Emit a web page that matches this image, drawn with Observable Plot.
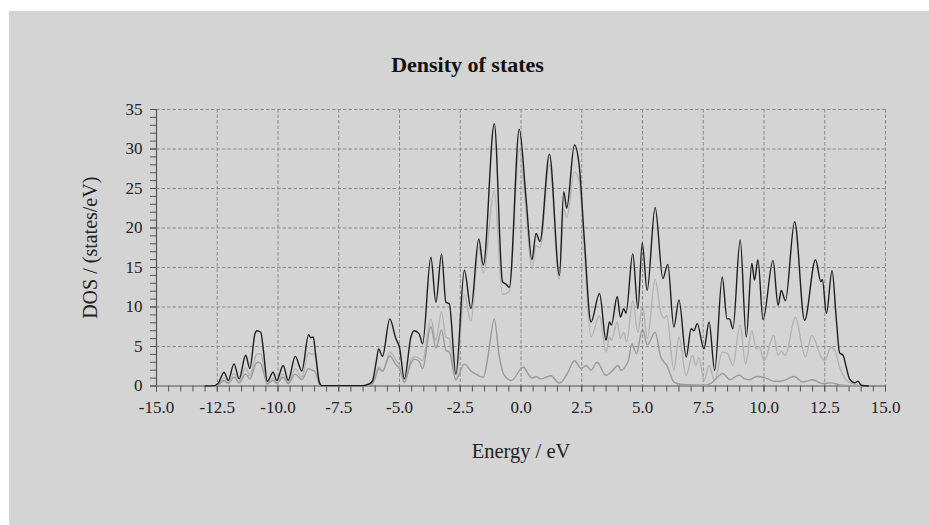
<!DOCTYPE html>
<html>
<head>
<meta charset="utf-8">
<script src="https://cdn.jsdelivr.net/npm/d3@7"></script>
<script src="https://cdn.jsdelivr.net/npm/@observablehq/plot@0.6"></script>
<style>
  html, body { margin: 0; padding: 0; background: #ffffff; }
  #page { position: relative; width: 929px; height: 525px; overflow: hidden; }
  #bg { position: absolute; left: 9px; top: 11px; right: 0; bottom: 0; background: #d4d4d4; }
  #chart { position: absolute; left: 0; top: 0; }
</style>
</head>
<body>
<div id="page"><div id="bg"></div><div id="chart"></div></div>
<script>
const titleText = "Density of states";
const xLabel = "Energy / eV";
const yLabel = "DOS / (states/eV)";
const xTicks = [-15, -12.5, -10, -7.5, -5, -2.5, 0, 2.5, 5, 7.5, 10, 12.5, 15];
const yTicks = [0, 5, 10, 15, 20, 25, 30, 35];
const xMinorTicks = d3.range(-15, 15.001, 0.5);
const yMinorTicks = d3.range(0, 35.001, 1);

// Total DOS [energy, DOS]
const totalDOS = [[-13.0,0],[-12.6,0.05],[-12.45,0.4],[-12.22,1.75],[-12.05,0.7],[-11.81,2.8],[-11.6,0.9],[-11.33,3.9],[-11.16,2.2],[-10.95,6.6],[-10.87,7.0],[-10.71,6.8],[-10.6,4.5],[-10.44,0.6],[-10.2,1.75],[-10.05,0.7],[-9.79,2.6],[-9.58,0.7],[-9.29,3.75],[-9.02,1.9],[-8.74,6.5],[-8.65,6.1],[-8.55,6.2],[-8.45,4.0],[-8.3,0.5],[-8.2,0.05],[-6.5,0.05],[-6.3,0.2],[-6.12,0.6],[-5.95,3.2],[-5.86,4.7],[-5.7,3.75],[-5.4,8.5],[-5.15,6.0],[-5.0,4.9],[-4.8,0.9],[-4.53,6.2],[-4.4,7.0],[-4.19,6.6],[-4.05,5.35],[-3.71,16.3],[-3.5,10.6],[-3.27,16.7],[-3.09,10.6],[-2.95,10.4],[-2.68,1.5],[-2.33,14.65],[-2.06,9.8],[-1.74,18.6],[-1.55,15.3],[-1.1,33.2],[-0.76,13.2],[-0.62,12.9],[-0.48,12.5],[-0.07,32.5],[0.21,23.7],[0.45,16.0],[0.62,19.3],[0.78,18.3],[1.17,29.35],[1.58,14.0],[1.76,24.6],[1.88,22.5],[2.2,30.5],[2.4,27.75],[2.61,18.4],[2.88,8.1],[3.23,11.7],[3.5,5.8],[3.64,8.1],[3.72,7.7],[3.96,11.35],[4.09,8.7],[4.23,9.8],[4.32,9.2],[4.6,16.75],[4.81,9.8],[4.99,18.1],[5.19,12.1],[5.52,22.6],[5.84,13.6],[6.04,15.4],[6.29,7.45],[6.5,10.9],[6.8,3.65],[7.0,7.25],[7.12,7.0],[7.25,7.9],[7.53,4.7],[7.74,8.1],[7.97,1.97],[8.28,13.8],[8.48,8.5],[8.58,8.5],[8.72,7.25],[9.02,18.5],[9.27,6.2],[9.5,15.5],[9.61,13.4],[9.75,16.0],[9.96,8.4],[10.37,15.9],[10.58,10.2],[10.71,12.1],[10.88,10.8],[11.26,20.8],[11.67,8.3],[12.12,16.0],[12.34,13.2],[12.4,13.5],[12.57,9.2],[12.8,14.6],[12.98,8.3],[13.11,4.2],[13.25,3.9],[13.4,2.2],[13.52,0.9],[13.73,0.4],[13.87,0.6],[14.0,0.1],[14.3,0]];

// Component A (light grey)
const partA = [[-13.0,0],[-12.6,0.03],[-12.45,0.2],[-12.22,1.0],[-12.05,0.4],[-11.81,1.6],[-11.6,0.5],[-11.33,2.3],[-11.16,1.3],[-10.9,3.9],[-10.8,4.1],[-10.7,4.0],[-10.6,2.8],[-10.44,0.35],[-10.2,1.0],[-10.05,0.4],[-9.79,1.5],[-9.58,0.4],[-9.29,2.2],[-9.02,1.1],[-8.74,4.2],[-8.6,4.0],[-8.5,4.1],[-8.4,2.5],[-8.3,0.3],[-8.2,0.03],[-6.5,0.03],[-6.3,0.1],[-6.12,0.3],[-5.95,1.7],[-5.86,2.4],[-5.7,1.8],[-5.4,4.3],[-5.15,3.3],[-5.0,2.6],[-4.8,0.4],[-4.53,3.3],[-4.4,3.7],[-4.19,3.5],[-4.05,3.2],[-3.71,8.5],[-3.5,5.8],[-3.27,9.4],[-3.09,6.2],[-2.95,6.0],[-2.68,0.7],[-2.33,11.6],[-2.06,8.2],[-1.74,17.6],[-1.55,14.3],[-1.1,24.7],[-0.76,11.6],[-0.62,11.7],[-0.48,12.0],[-0.07,30.0],[0.21,22.0],[0.45,14.8],[0.62,17.8],[0.78,17.5],[1.17,28.0],[1.58,13.5],[1.76,22.4],[1.88,21.3],[2.2,27.1],[2.4,25.8],[2.61,17.0],[2.88,6.2],[3.23,8.9],[3.5,4.3],[3.64,6.2],[3.72,5.8],[3.96,8.1],[4.09,6.0],[4.23,6.8],[4.35,5.6],[4.6,10.8],[4.81,6.8],[5.0,10.2],[5.2,6.0],[5.52,13.5],[5.76,9.2],[5.9,8.6],[6.0,8.9],[6.29,2.0],[6.5,6.2],[6.8,1.3],[7.05,3.9],[7.2,2.6],[7.32,3.6],[7.53,0.7],[7.74,2.6],[7.97,0.7],[8.28,4.3],[8.5,4.1],[8.72,2.6],[9.02,7.7],[9.24,2.8],[9.5,7.0],[9.68,4.7],[9.8,5.0],[10.0,3.2],[10.4,6.4],[10.58,3.9],[10.7,4.4],[10.88,3.9],[11.29,8.7],[11.7,3.7],[11.97,6.4],[12.35,3.7],[12.5,3.2],[12.75,4.9],[12.93,4.4],[13.11,2.4],[13.3,1.1],[13.6,0.3],[13.9,0.1],[14.3,0]];

// Component B (mid grey)
const partB = [[-13.0,0],[-12.6,0.02],[-12.45,0.15],[-12.22,0.7],[-12.05,0.3],[-11.81,1.1],[-11.6,0.4],[-11.33,1.5],[-11.16,0.9],[-10.9,2.9],[-10.8,3.0],[-10.7,2.8],[-10.6,1.8],[-10.44,0.25],[-10.2,0.75],[-10.05,0.3],[-9.79,1.1],[-9.58,0.3],[-9.29,1.5],[-9.02,0.8],[-8.74,2.2],[-8.6,2.0],[-8.5,1.9],[-8.4,1.3],[-8.3,0.2],[-8.2,0.02],[-6.5,0.02],[-6.3,0.1],[-6.12,0.3],[-5.95,1.5],[-5.86,2.2],[-5.7,1.9],[-5.4,3.8],[-5.15,2.7],[-5.0,2.2],[-4.8,0.5],[-4.53,2.9],[-4.4,3.4],[-4.19,3.1],[-4.05,2.2],[-3.71,7.5],[-3.5,4.8],[-3.27,7.1],[-3.09,4.5],[-2.95,4.3],[-2.68,0.8],[-2.33,2.8],[-2.06,1.9],[-1.8,1.4],[-1.55,1.1],[-1.35,3.9],[-1.1,8.5],[-0.9,3.9],[-0.7,1.4],[-0.4,0.7],[0.1,2.4],[0.3,1.5],[0.45,1.0],[0.62,1.2],[0.8,0.9],[1.23,1.3],[1.58,0.35],[1.9,1.55],[2.2,3.2],[2.48,2.2],[2.68,2.6],[2.88,2.0],[3.13,3.0],[3.5,1.33],[3.7,1.75],[4.0,2.6],[4.1,2.0],[4.42,3.2],[4.56,5.35],[4.75,4.1],[5.0,7.2],[5.2,5.2],[5.52,6.8],[5.75,3.7],[6.0,2.6],[6.3,0.5],[6.6,0.2],[7.5,0.1],[7.8,0.3],[8.05,1.0],[8.3,1.6],[8.6,0.8],[8.98,1.4],[9.2,0.9],[9.4,0.8],[9.7,1.2],[10.0,1.1],[10.4,0.6],[10.7,0.6],[11.25,1.2],[11.6,0.5],[12.0,0.8],[12.4,0.3],[12.75,0.4],[13.2,0.1],[13.6,0.03],[14.3,0]];

const serif = "'Liberation Serif', 'Times New Roman', 'DejaVu Serif', serif";
const axisColor = "#555555";
const gridColor = "#8a8a8a";

const chart = Plot.plot({
  width: 929,
  height: 525,
  marginLeft: 156,
  marginRight: 44,
  marginTop: 109,
  marginBottom: 139.5,
  style: { background: "transparent", fontFamily: serif, fontSize: "17px", color: "#222" },
  x: { domain: [-15, 15] },
  y: { domain: [0, 35] },
  marks: [
    Plot.gridX(xTicks.filter(v => v > -15), { stroke: gridColor, strokeOpacity: 1, strokeDasharray: "3.5,2" }),
    Plot.gridY(yTicks.filter(v => v > 0), { stroke: gridColor, strokeOpacity: 1, strokeDasharray: "3.5,2" }),
    Plot.axisX(xMinorTicks, { tickSize: 6, tickFormat: () => "", stroke: axisColor, label: null }),
    Plot.axisY(yMinorTicks, { tickSize: 6, tickFormat: () => "", stroke: axisColor, label: null }),
    Plot.axisX(xTicks, { tickSize: 6, tickPadding: 9, tickFormat: d => d.toFixed(1), stroke: axisColor, fill: "#222", label: null }),
    Plot.axisY(yTicks, { tickSize: 6, tickPadding: 8, tickFormat: d => String(d), stroke: axisColor, fill: "#222", label: null }),
    Plot.ruleY([0], { stroke: axisColor, strokeWidth: 1.2 }),
    Plot.ruleX([-15], { stroke: axisColor, strokeWidth: 1.2 }),
    Plot.line(partA, { x: d => d[0], y: d => d[1], stroke: "#b3b3b3", strokeWidth: 1.4, curve: "monotone-x" }),
    Plot.line(partB, { x: d => d[0], y: d => d[1], stroke: "#9a9a9a", strokeWidth: 1.4, curve: "monotone-x" }),
    Plot.line(totalDOS, { x: d => d[0], y: d => d[1], stroke: "#1e1e1e", strokeWidth: 1.4, curve: "monotone-x" }),
    Plot.text([titleText], { text: d => d, frameAnchor: "top", lineAnchor: "middle", textAnchor: "middle", dx: -53.5, dy: -45, fontSize: 22, fontWeight: "bold", fill: "#111" }),
    Plot.text([yLabel], { text: d => d, frameAnchor: "left", lineAnchor: "middle", textAnchor: "middle", dx: -66, rotate: -90, fontSize: 20, fill: "#222" }),
    Plot.text([xLabel], { text: d => d, frameAnchor: "bottom", lineAnchor: "middle", textAnchor: "middle", dy: 65, fontSize: 20.5, fill: "#222" })
  ]
});
document.getElementById("chart").appendChild(chart);
</script>
</body>
</html>
